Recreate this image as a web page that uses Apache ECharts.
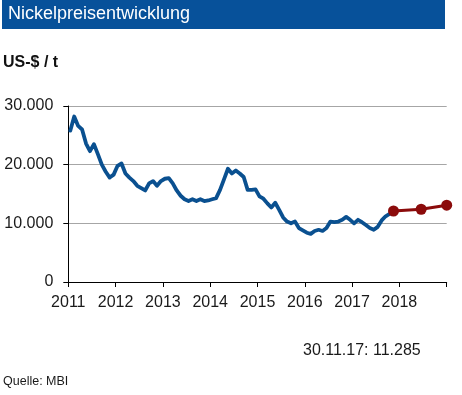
<!DOCTYPE html>
<html><head><meta charset="utf-8">
<script src="https://cdn.jsdelivr.net/npm/echarts@6/dist/echarts.min.js"></script>
<style>html,body{margin:0;padding:0;background:#fff}#c{width:462px;height:395px}</style>
</head><body><div id="c"></div>
<script>
// Monthly nickel price (US-$/t), Jan 2011 .. Nov 2017
const startYear = 2011;
const values2011 = [25800, 28200, 26600, 26000, 23600, 22300, 23500, 21800, 20000, 18800, 17800, 18300];
const values2012 = [19800, 20200, 18500, 17800, 17200, 16400, 16000, 15600, 16800, 17200, 16400, 17200];
const values2013 = [17600, 17700, 16800, 15600, 14700, 14100, 13800, 14100, 13800, 14100, 13800, 13900];
const values2014 = [14100, 14300, 15700, 17500, 19300, 18500, 19000, 18500, 17900, 15700, 15700, 15800];
const values2015 = [14600, 14200, 13400, 12700, 13500, 12300, 11000, 10300, 10000, 10300, 9200, 8800];
const values2016 = [8400, 8200, 8700, 8900, 8700, 9200, 10300, 10200, 10300, 10600, 11100, 10600];
const values2017 = [10000, 10600, 10200, 9700, 9200, 8900, 9400, 10500, 11200, 11600, 11800];
// Forecast points (decimal year) and values
const forecastX = [2017.875, 2018.46, 2019.0];
const forecastY = [12100, 12400, 13100];
const yTicks = [0, 10000, 20000, 30000];
const xTickYears = [2011, 2012, 2013, 2014, 2015, 2016, 2017, 2018];

const yearly = [values2011, values2012, values2013, values2014, values2015, values2016, values2017];
const priceData = [];
yearly.forEach((arr, yi) => arr.forEach((v, mi) => priceData.push([startYear + yi + (mi + 0.5) / 12, v])));
const forecastData = forecastX.map((x, i) => [x, forecastY[i]]);

function fmt(v) { return String(v).replace(/\B(?=(\d{3})+(?!\d))/g, '.'); }

const FONT = '"Liberation Sans", Arial, sans-serif';
const chart = echarts.init(document.getElementById('c'), null, {renderer: 'canvas'});
chart.setOption({
  animation: false,
  backgroundColor: '#ffffff',
  grid: {left: 68.3, right: 15.3, top: 106, bottom: 113, containLabel: false},
  xAxis: {
    type: 'value', min: 2011, max: 2019, interval: 1,
    axisLine: {show: true, onZero: false, lineStyle: {color: '#000', width: 1}},
    axisTick: {show: true, length: 5, inside: false, lineStyle: {color: '#000'}},
    splitLine: {show: false},
    axisLabel: {
      margin: 13, color: '#1a1a1a', fontSize: 16, fontFamily: FONT,
      showMaxLabel: true,
      formatter: v => xTickYears.indexOf(v) >= 0 ? String(v) : ''
    }
  },
  yAxis: {
    type: 'value', min: 0, max: 30000, interval: 10000,
    axisLine: {show: true, lineStyle: {color: '#000', width: 1}},
    axisTick: {show: true, length: 5, lineStyle: {color: '#000'}},
    splitLine: {show: true, lineStyle: {color: '#a6a6a6', width: 1}},
    axisLabel: {
      margin: 15, color: '#1a1a1a', fontSize: 16, fontFamily: FONT,
      formatter: v => yTicks.indexOf(v) >= 0 ? fmt(v) : ''
    }
  },
  series: [
    {
      type: 'line', data: priceData, showSymbol: false, smooth: false,
      lineStyle: {color: '#0a5090', width: 3.8, join: 'round', cap: 'round'},
      z: 2
    },
    {
      type: 'line', data: forecastData, symbol: 'circle', symbolSize: 11, showSymbol: true,
      lineStyle: {color: '#8b0b0b', width: 3},
      itemStyle: {color: '#8b0b0b'},
      z: 3
    }
  ],
  graphic: [
    {type: 'rect', left: 2, top: 0, shape: {width: 443, height: 29}, style: {fill: '#07519a'}},
    {type: 'text', left: 8, top: 5, style: {text: 'Nickelpreisentwicklung', fill: '#ffffff', font: '18px ' + FONT}},
    {type: 'text', left: 3, top: 55, style: {text: 'US-$ / t', fill: '#111', font: 'bold 16px ' + FONT}},
    {type: 'text', left: 303, top: 343, style: {text: '30.11.17: ' + fmt(11285), fill: '#1a1a1a', font: '16px ' + FONT}},
    {type: 'text', left: 3, top: 375, style: {text: 'Quelle: MBI', fill: '#1a1a1a', font: '12.5px ' + FONT}}
  ]
});
</script>
</body></html>
